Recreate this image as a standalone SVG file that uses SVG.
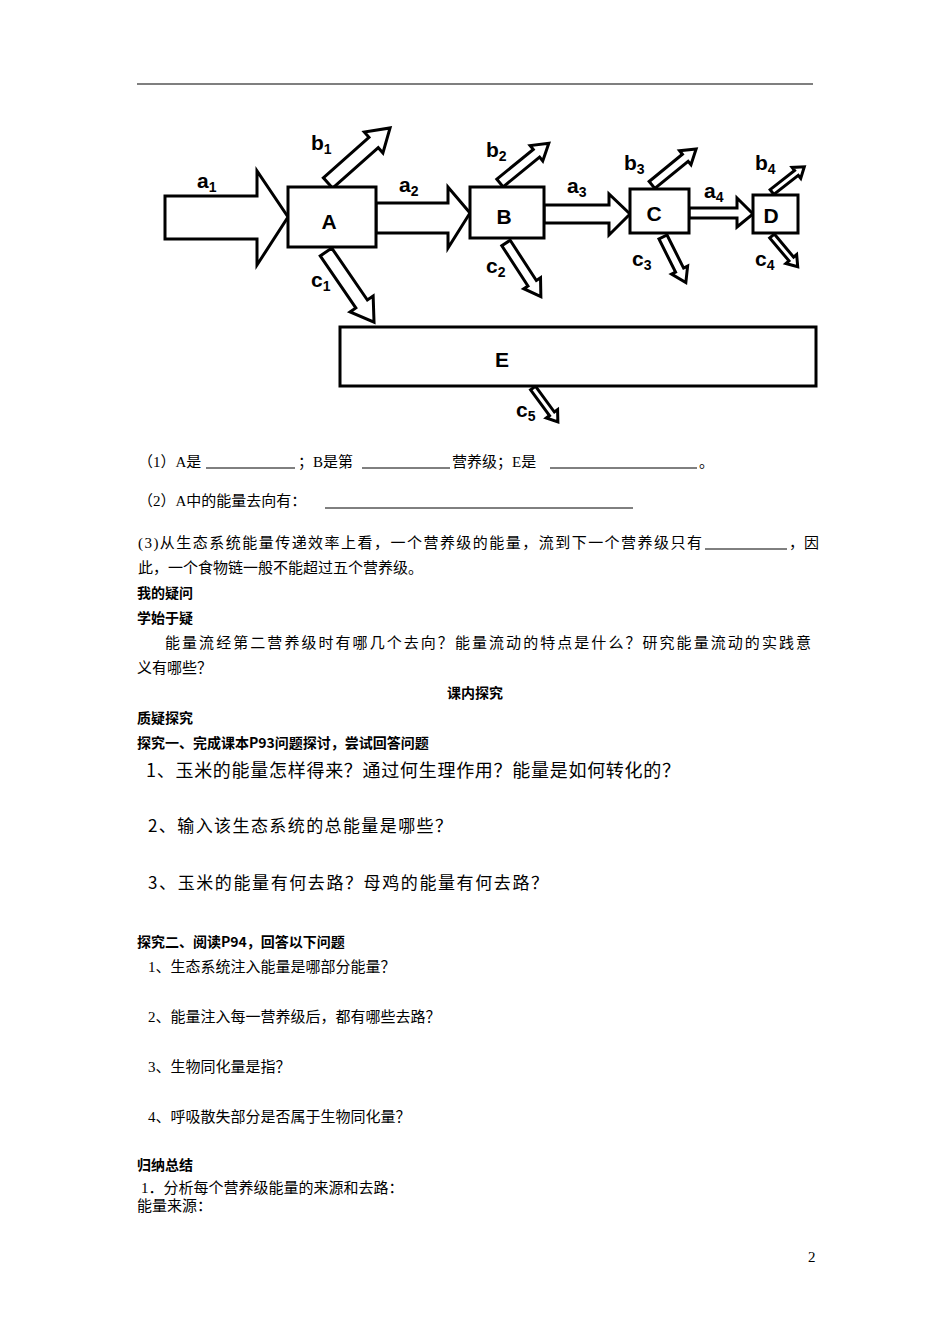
<svg xmlns="http://www.w3.org/2000/svg" width="950" height="1344" viewBox="0 0 950 1344">
<style>
.s{fill:#fff;stroke:#000;stroke-width:3;stroke-linejoin:miter}
.bx{fill:#fff;stroke:#000;stroke-width:3}
.lb{font-family:"Liberation Sans","DejaVu Sans",sans-serif;font-weight:bold;font-size:21px;fill:#000}
.sub{font-size:14px}
.t{font-family:"Liberation Serif","Noto Sans CJK SC",serif;font-size:15px;fill:#000}
.b{font-family:"Noto Sans CJK SC",sans-serif;font-size:14px;font-weight:bold;fill:#000}
.q{font-family:"Noto Sans CJK SC",sans-serif;fill:#000}
.u{stroke:#000;stroke-width:1}
</style>
<rect width="950" height="1344" fill="#fff"/>
<line x1="137" y1="84" x2="813" y2="84" stroke="#000" stroke-width="1.2"/>
<g id="connectors">
<polygon class="s" points="165,196 257,196 257,171 288,217 257,265 257,239 165,239"/>
<polygon class="s" points="376,203 448,203 448,187 470,213 448,248 448,233 376,233"/>
<polygon class="s" points="544,205 609,205 609,194 630,214 609,235 609,223 544,223"/>
<polygon class="s" points="689,208 737,208 737,198 753,214 737,227 737,218 689,218"/>
<polygon class="s" transform="translate(328,183) rotate(-41.6)" points="0,-7 61,-7 61,-14 83,0 61,14 61,7 0,7"/>
<polygon class="s" transform="translate(500,183) rotate(-39.2)" points="0,-5 47,-5 47,-10 63,0 47,10 47,5 0,5"/>
<polygon class="s" transform="translate(652,185) rotate(-39.3)" points="0,-4.5 43,-4.5 43,-9 57,0 43,9 43,4.5 0,4.5"/>
<polygon class="s" transform="translate(772,192) rotate(-38)" points="0,-3 31,-3 31,-7 41,0 31,7 31,3 0,3"/>
<polygon class="s" transform="translate(326,252) rotate(55.6)" points="0,-7 63,-7 63,-14 85,0 63,14 63,7 0,7"/>
<polygon class="s" transform="translate(506,243) rotate(57)" points="0,-5 48,-5 48,-10 64,0 48,10 48,5 0,5"/>
<polygon class="s" transform="translate(663,237) rotate(63.4)" points="0,-4.5 37,-4.5 37,-9 51,0 37,9 37,4.5 0,4.5"/>
<polygon class="s" transform="translate(772,236) rotate(50)" points="0,-3 30,-3 30,-7 40,0 30,7 30,3 0,3"/>
<polygon class="s" transform="translate(533,388) rotate(53.7)" points="0,-3 32,-3 32,-7 42,0 32,7 32,3 0,3"/>
</g>
<g id="A"><rect class="bx" x="288" y="187" width="88" height="60"/><text class="lb" x="329" y="229" text-anchor="middle" font-weight="normal">A</text></g>
<g id="B"><rect class="bx" x="470" y="187" width="74" height="51"/><text class="lb" x="504" y="224" text-anchor="middle" font-weight="normal">B</text></g>
<g id="C"><rect class="bx" x="630" y="189" width="59" height="44"/><text class="lb" x="654" y="221" text-anchor="middle" font-weight="normal">C</text></g>
<g id="D"><rect class="bx" x="753" y="195" width="45" height="38"/><text class="lb" x="771" y="223" text-anchor="middle" font-weight="normal">D</text></g>
<g id="E"><rect class="bx" x="340" y="327" width="476" height="59"/><text class="lb" x="502" y="367" text-anchor="middle" font-weight="normal">E</text></g>
<g id="labels">
<text class="lb" x="197" y="188">a<tspan class="sub" dy="4">1</tspan></text>
<text class="lb" x="311" y="150">b<tspan class="sub" dy="4">1</tspan></text>
<text class="lb" x="399" y="192">a<tspan class="sub" dy="4">2</tspan></text>
<text class="lb" x="486" y="157">b<tspan class="sub" dy="4">2</tspan></text>
<text class="lb" x="567" y="193">a<tspan class="sub" dy="4">3</tspan></text>
<text class="lb" x="624" y="170">b<tspan class="sub" dy="4">3</tspan></text>
<text class="lb" x="704" y="198">a<tspan class="sub" dy="4">4</tspan></text>
<text class="lb" x="755" y="170">b<tspan class="sub" dy="4">4</tspan></text>
<text class="lb" x="311" y="287">c<tspan class="sub" dy="4">1</tspan></text>
<text class="lb" x="486" y="273">c<tspan class="sub" dy="4">2</tspan></text>
<text class="lb" x="632" y="266">c<tspan class="sub" dy="4">3</tspan></text>
<text class="lb" x="755" y="266">c<tspan class="sub" dy="4">4</tspan></text>
<text class="lb" x="516" y="417">c<tspan class="sub" dy="4">5</tspan></text>
</g>
<g id="text">
<text class="t" x="138" y="467">（1）A是</text><line class="u" x1="206" y1="468" x2="295" y2="468"/>
<text class="t" x="298" y="467">；B是第</text><line class="u" x1="362" y1="468" x2="450" y2="468"/>
<text class="t" x="452" y="467">营养级；E是</text><line class="u" x1="550" y1="468" x2="697" y2="468"/>
<text class="t" x="699" y="467">。</text>
<text class="t" x="138" y="506">（2）A中的能量去向有：</text><line class="u" x1="325" y1="508" x2="633" y2="508"/>
<text class="t" x="138" y="548" textLength="564">(3)从生态系统能量传递效率上看，一个营养级的能量，流到下一个营养级只有</text><line class="u" x1="705" y1="549" x2="787" y2="549"/>
<text class="t" x="789" y="548">，因</text>
<text class="t" x="138" y="573">此，一个食物链一般不能超过五个营养级。</text>
<text class="b" x="137" y="598">我的疑问</text>
<text class="b" x="137" y="623">学始于疑</text>
<text class="t" x="165" y="648" textLength="646">能量流经第二营养级时有哪几个去向？能量流动的特点是什么？研究能量流动的实践意</text>
<text class="t" x="137" y="673">义有哪些？</text>
<text class="b" x="475" y="698" text-anchor="middle">课内探究</text>
<text class="b" x="137" y="723">质疑探究</text>
<text class="b" x="137" y="748">探究一、完成课本P93问题探讨，尝试回答问题</text>
<text class="q" x="146" y="777" font-size="18" textLength="534">1、玉米的能量怎样得来？通过何生理作用？能量是如何转化的？</text>
<text class="q" x="148" y="832" font-size="17" textLength="304">2、输入该生态系统的总能量是哪些？</text>
<text class="q" x="148" y="889" font-size="17" textLength="400">3、玉米的能量有何去路？母鸡的能量有何去路？</text>
<text class="b" x="137" y="947">探究二、阅读P94，回答以下问题</text>
<text class="t" x="148" y="972">1、生态系统注入能量是哪部分能量？</text>
<text class="t" x="148" y="1022">2、能量注入每一营养级后，都有哪些去路？</text>
<text class="t" x="148" y="1072">3、生物同化量是指？</text>
<text class="t" x="148" y="1122">4、呼吸散失部分是否属于生物同化量？</text>
<text class="b" x="137" y="1170">归纳总结</text>
<text class="t" x="141" y="1193">1．分析每个营养级能量的来源和去路：</text>
<text class="t" x="137" y="1211">能量来源：</text>
<text class="t" x="808" y="1262" font-size="12">2</text>
</g>
</svg>
